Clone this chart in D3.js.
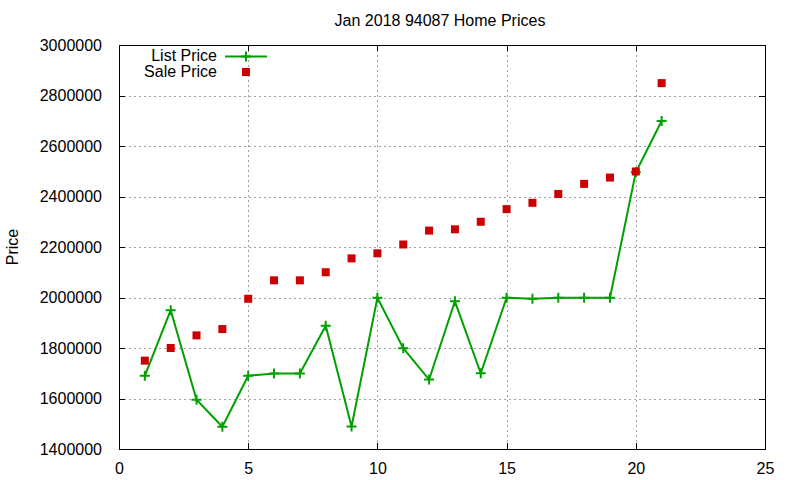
<!DOCTYPE html>
<html lang="en">
<head>
<meta charset="UTF-8">
<title>Jan 2018 94087 Home Prices</title>
<script src="https://d3js.org/d3.v7.min.js"></script>
<style>
    body { margin: 0; background: #fff; }
    text { font-family: "Liberation Sans", Arial, sans-serif; fill: #000; }
    .grid line { stroke: #a0a0a0; stroke-width: 1; stroke-dasharray: 2,3; shape-rendering: crispEdges; }
    .axis path, .axis line { stroke: #000; shape-rendering: crispEdges; }
</style>
</head>
<body>
<svg width="800" height="480"></svg>
<script>

    var index = [1, 2, 3, 4, 5, 6, 7, 8, 9, 10, 11, 12, 13, 14, 15, 16, 17, 18, 19, 20, 21];
    var listPrice = [1690000, 1950000, 1595000, 1488000, 1690000, 1699000, 1699000, 1888000, 1489000, 1999000,
        1799000, 1675000, 1985000, 1700000, 1999000, 1995000, 1999000, 1999000, 1999000, 2496000, 2699000];
    var salePrice = [1750000, 1800000, 1850000, 1875000, 1995000, 2068000, 2068000, 2100000, 2155000, 2175000,
        2210000, 2265000, 2270000, 2300000, 2350000, 2375000, 2410000, 2450000, 2475000, 2499000, 2849000];
    var xTicks = [0, 5, 10, 15, 20, 25];
    var yTicks = [1400000, 1600000, 1800000, 2000000, 2200000, 2400000, 2600000, 2800000, 3000000];

    var svg = d3.select('svg');
    var mLeft = 119, mRight = 765, mTop = 45, mBottom = 449;
    var green = '#00a000', red = '#cc0000';

    var x = d3.scaleLinear().domain([0, 25]).range([mLeft, mRight]);
    var y = d3.scaleLinear().domain([1400000, 3000000]).range([mBottom, mTop]);

    // grid
    var grid = svg.append('g').attr('class', 'grid');
    grid.selectAll('.gx').data(xTicks.slice(1, -1)).enter().append('line')
        .attr('x1', d => Math.round(x(d)) + 0.5).attr('x2', d => Math.round(x(d)) + 0.5)
        .attr('y1', mTop).attr('y2', mBottom);
    grid.selectAll('.gy').data(yTicks.slice(1, -1)).enter().append('line')
        .attr('y1', d => Math.round(y(d)) + 0.5).attr('y2', d => Math.round(y(d)) + 0.5)
        .attr('x1', mLeft).attr('x2', mRight);

    // axes, inward ticks on all sides
    var fmt = d3.format('d');
    svg.append('g').attr('class', 'axis')
        .attr('transform', 'translate(0,' + mBottom + ')')
        .call(d3.axisBottom(x).tickValues(xTicks).tickSize(-6).tickPadding(14).tickFormat(fmt))
        .call(g => g.selectAll('text').attr('font-size', 16));
    svg.append('g').attr('class', 'axis')
        .attr('transform', 'translate(' + mLeft + ',0)')
        .call(d3.axisLeft(y).tickValues(yTicks).tickSize(-6).tickPadding(17).tickFormat(fmt))
        .call(g => g.selectAll('text').attr('font-size', 16));
    svg.append('g').attr('class', 'axis')
        .attr('transform', 'translate(0,' + mTop + ')')
        .call(d3.axisTop(x).tickValues(xTicks).tickSize(-6).tickFormat(''));
    svg.append('g').attr('class', 'axis')
        .attr('transform', 'translate(' + mRight + ',0)')
        .call(d3.axisRight(y).tickValues(yTicks).tickSize(-6).tickFormat(''));
    svg.selectAll('.axis text').attr('font-family', '"Liberation Sans", Arial, sans-serif');

    // list price line
    var line = d3.line().x((d, i) => x(index[i])).y(d => y(d));
    svg.append('path').datum(listPrice)
        .attr('d', line).attr('fill', 'none').attr('stroke', green).attr('stroke-width', 2);

    function drawPlus(sel, cx, cy) {
        sel.append('path')
            .attr('d', 'M' + (cx - 5) + ',' + cy + 'H' + (cx + 5) + 'M' + cx + ',' + (cy - 5) + 'V' + (cy + 5))
            .attr('stroke', green).attr('stroke-width', 2).attr('fill', 'none');
    }
    var pts = svg.append('g');
    listPrice.forEach((d, i) => drawPlus(pts, x(index[i]), y(d)));

    // sale price squares
    svg.append('g').selectAll('rect').data(salePrice).enter().append('rect')
        .attr('x', (d, i) => x(index[i]) - 4).attr('y', d => y(d) - 4)
        .attr('width', 8).attr('height', 8).attr('fill', red);

    // legend
    var legend = svg.append('g');
    legend.append('text').attr('x', 217).attr('y', 61).attr('text-anchor', 'end')
        .attr('font-size', 16).text('List Price');
    legend.append('line').attr('x1', 225).attr('x2', 267).attr('y1', 56.5).attr('y2', 56.5)
        .attr('stroke', green).attr('stroke-width', 2);
    drawPlus(legend, 246, 56.5);
    legend.append('text').attr('x', 217).attr('y', 77).attr('text-anchor', 'end')
        .attr('font-size', 16).text('Sale Price');
    legend.append('rect').attr('x', 242).attr('y', 68).attr('width', 8).attr('height', 8).attr('fill', red);

    // title and y label
    svg.append('text').attr('x', 440).attr('y', 26).attr('text-anchor', 'middle')
        .attr('font-size', 16).text('Jan 2018 94087 Home Prices');
    svg.append('text').attr('transform', 'translate(18,247) rotate(-90)').attr('text-anchor', 'middle')
        .attr('font-size', 16).text('Price');

</script>
</body>
</html>
